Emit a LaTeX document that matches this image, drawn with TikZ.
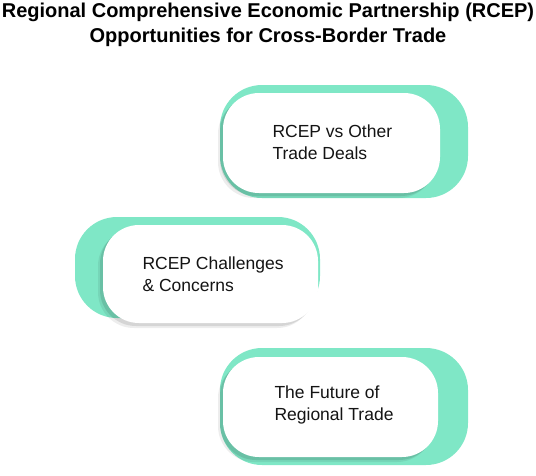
\documentclass[tikz,border=0pt]{standalone}
\usepackage{fontspec}
\setmainfont{Liberation Sans}
\usepackage{tikz}
\usetikzlibrary{positioning,shadows}
\definecolor{rcMint}{HTML}{7FE7C6}
\definecolor{rcInk}{HTML}{141414}
\tikzset{
  pill/.style={fill=rcMint, rounded corners=42pt, inner sep=0pt},
  card/.style={fill=white, rounded corners=36pt, inner sep=0pt,
    drop shadow={shadow xshift=-5pt, shadow yshift=-5pt, fill=black, opacity=0.07},
    drop shadow={shadow xshift=-3pt, shadow yshift=-3pt, fill=black, opacity=0.10}},
  lbl/.style={anchor=west, align=left, text=rcInk, font=\fontsize{17.5}{22}\selectfont},
  ttl/.style={align=center, text=black, font=\bfseries\fontsize{20}{25}\selectfont},
}
\begin{document}
\begin{tikzpicture}[x=1pt,y=-1pt]
  \useasboundingbox (0,0) rectangle (536,475);
  \node[ttl] (title) at (268,24.5) {Regional Comprehensive Economic Partnership (RCEP)\\Opportunities for Cross-Border Trade};
  % first item
  \node[pill, minimum width=248pt, minimum height=113pt] (g1) at (344,141.5) {};
  \node[card, minimum width=217pt, minimum height=100pt] (w1) at (331.5,143) {};
  \node[lbl] (t1) at (269,142) {RCEP vs Other\\Trade Deals};
  % second item
  \node[pill, minimum width=245pt, minimum height=101pt] (g2) at (197.5,267.5) {};
  \node[card, minimum width=215pt, minimum height=98pt] (w2) at (210.5,274) {};
  \node[lbl] (t2) at (139,274) {RCEP Challenges\\\& Concerns};
  % third item
  \node[pill, minimum width=248pt, minimum height=117pt] (g3) at (344,406.5) {};
  \node[card, minimum width=215pt, minimum height=100pt] (w3) at (330.5,407) {};
  \node[lbl] (t3) at (271,405) {The Future of\\Regional Trade};
\end{tikzpicture}
\end{document}
